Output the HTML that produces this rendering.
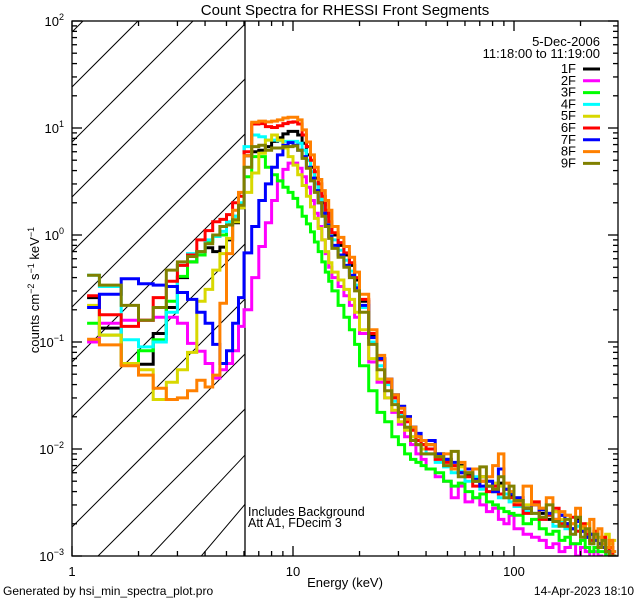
<!DOCTYPE html>
<html><head><meta charset="utf-8"><style>
html,body{margin:0;padding:0;background:#fff;width:640px;height:600px;overflow:hidden;}
svg{display:block;font-family:"Liberation Sans",sans-serif;}
</style></head><body>
<svg id="chart" width="640" height="600" viewBox="0 0 640 600" xmlns="http://www.w3.org/2000/svg">
<defs><clipPath id="pc"><rect x="72" y="21" width="546" height="535"/></clipPath>
<clipPath id="hc"><rect x="72" y="21" width="173" height="535"/></clipPath></defs>
<rect width="640" height="600" fill="#fff"/>
<text x="345" y="15" font-size="15" text-anchor="middle">Count Spectra for RHESSI Front Segments</text>
<g id="hatch" clip-path="url(#hc)" stroke="#000" stroke-width="1"></g>
<line x1="245" y1="21" x2="245" y2="556" stroke="#000" stroke-width="1.3"/>
<g id="series" clip-path="url(#pc)"></g>
<rect x="72" y="21" width="546" height="535" fill="none" stroke="#000" stroke-width="1.3"/>
<g id="ticks" stroke="#000" stroke-width="1.3"></g>
<g id="labels" font-size="13"></g>
<text x="600" y="46" font-size="13" text-anchor="end">5-Dec-2006</text>
<text x="600" y="58" font-size="13" text-anchor="end">11:18:00 to 11:19:00</text>
<g id="legend" font-size="13"></g>
<text x="248" y="516" font-size="12.5">Includes Background</text>
<text x="248" y="527" font-size="12.5">Att A1, FDecim 3</text>
<text x="345" y="587" font-size="13" text-anchor="middle">Energy (keV)</text>
<text transform="translate(39,290) rotate(-90)" font-size="13" text-anchor="middle">counts cm<tspan dy="-5" font-size="9">−2</tspan><tspan dy="5"> s</tspan><tspan dy="-5" font-size="9">−1</tspan><tspan dy="5"> keV</tspan><tspan dy="-5" font-size="9">−1</tspan></text>
<text x="3" y="595" font-size="12">Generated by hsi_min_spectra_plot.pro</text>
<text x="634" y="595" font-size="12" text-anchor="end">14-Apr-2023 18:10</text>
</svg>
<script>
const edges=[1.17,1.33,1.67,2,2.33,2.67,3,3.33,3.67,4,4.33,4.67,5,5.33,5.67,6,
6.5,7,7.5,8,8.5,9,9.5,10,10.5,11,11.5,12,12.5,13,13.5,14,14.5,15,
16,17,18,19,20,22,24,26,28,30,32,34,36,38,40,44,48,52,56,60,65,70,75,80,85,90,95,100,
110,120,130,140,150,160,170,180,190,200,210,220,230,240,250,260,270,280,290];
const seriesNames=["1F","2F","3F","4F","5F","6F","7F","8F","9F"];
const seriesColors=["#000000","#ff00ff","#00ff00","#00ffff","#d8d800","#ff0000","#0000ff","#ff8000","#808000"];
const s1F=[0.26,0.135,0.062,0.062,0.12,0.21,0.40,0.56,0.70,0.76,0.70,0.77,0.9,1.3,1.8,
5.5,6.0,6.2,6.7,7.5,8.1,8.8,9.3,9.3,8.6,7.2,5.6,4.3,3.4,2.6,2.0,1.6,1.24,
1.0,0.8,0.65,0.52,0.38,0.24,0.115,0.07,0.045,0.032,0.025,0.02,0.016,0.013,0.011,
0.011,0.009,0.008,0.0065,0.007,0.0058,0.005,0.0055,0.0045,0.004,0.0048,0.0038,0.0036,
0.0033,0.0028,0.003,0.0025,0.0022,0.0026,0.0024,0.002,0.0018,0.0022,0.0017,0.0015,0.0016,0.0014,0.0013,0.0012,0.0011,0.0011,0.001];
const s2F=[0.10,0.15,0.16,0.16,0.17,0.17,0.15,0.097,0.082,0.063,0.046,0.055,0.063,0.083,0.14,
0.2,0.4,0.78,1.3,2.1,3.2,4.1,4.7,4.7,4.2,3.5,2.8,2.1,1.6,1.2,0.9,0.67,0.5,
0.4,0.33,0.27,0.22,0.17,0.12,0.065,0.042,0.03,0.022,0.017,0.013,0.011,0.009,0.008,
0.0065,0.0055,0.005,0.0035,0.0045,0.0032,0.0035,0.003,0.0026,0.0028,0.0022,0.002,0.0024,
0.0018,0.0016,0.0015,0.0014,0.0012,0.0013,0.0011,0.0012,0.0013,0.001,0.0012,0.0011,0.0009,0.0011,0.001,0.0009,0.001,0.0009,0.0009];
const s3F=[0.15,0.116,0.063,0.083,0.105,0.24,0.41,0.56,0.65,0.87,0.97,1.0,1.3,1.5,1.9,
3.5,5.4,5.4,4.3,3.65,3.2,2.8,2.5,2.2,1.83,1.5,1.27,1.07,0.86,0.7,0.56,0.45,0.37,
0.3,0.22,0.17,0.13,0.095,0.06,0.035,0.022,0.018,0.013,0.011,0.009,0.008,0.0075,0.007,
0.0065,0.006,0.005,0.0045,0.0048,0.004,0.0035,0.0038,0.0032,0.003,0.0028,0.0026,0.0025,
0.0024,0.002,0.0022,0.0018,0.0016,0.0017,0.0014,0.0015,0.0013,0.0013,0.0014,0.0012,0.0011,0.0012,0.0011,0.0011,0.001,0.001,0.001];
const s4F=[0.42,0.33,0.105,0.09,0.10,0.19,0.52,0.67,0.70,0.9,0.97,1.08,1.33,1.5,2.0,
6.7,8.6,8.3,7.7,7.7,7.6,7.5,7.5,7.5,7.2,6.2,5.0,3.9,3.0,2.3,1.8,1.4,1.1,
0.9,0.72,0.58,0.46,0.34,0.21,0.10,0.06,0.04,0.028,0.021,0.016,0.013,0.011,0.01,
0.009,0.0075,0.0068,0.006,0.0062,0.005,0.0055,0.0042,0.0045,0.004,0.0035,0.0038,0.0032,
0.0029,0.0026,0.0025,0.0022,0.0024,0.0019,0.0021,0.0018,0.0016,0.0019,0.0015,0.0016,0.0013,0.0014,0.0012,0.0013,0.0011,0.001,0.0011];
const s5F=[0.22,0.116,0.063,0.055,0.029,0.042,0.055,0.08,0.24,0.31,0.47,0.67,0.93,1.33,1.8,
2.5,3.8,5.8,7.7,8.6,7.7,6.5,5.4,4.5,3.65,2.9,2.3,1.83,1.43,1.15,0.9,0.7,0.55,
0.45,0.38,0.31,0.25,0.19,0.13,0.07,0.045,0.03,0.023,0.018,0.015,0.013,0.011,0.01,
0.01,0.009,0.008,0.007,0.0068,0.006,0.0065,0.0055,0.005,0.0048,0.0045,0.0042,0.004,
0.0035,0.003,0.0032,0.0028,0.0025,0.0026,0.0022,0.0024,0.002,0.0021,0.0018,0.002,0.0016,0.0017,0.0015,0.0014,0.0016,0.0013,0.0014];
const s6F=[0.27,0.18,0.14,0.16,0.26,0.37,0.52,0.65,0.90,1.1,1.33,1.4,1.55,2.0,2.3,
6.0,10.9,11.0,10.3,10.1,10.5,11.0,11.3,11.4,10.9,8.6,6.7,5.0,3.9,3.0,2.3,1.7,1.33,
1.05,0.85,0.68,0.55,0.40,0.25,0.12,0.068,0.042,0.03,0.022,0.018,0.015,0.012,0.011,
0.01,0.008,0.0075,0.007,0.006,0.0055,0.0045,0.005,0.004,0.0045,0.0038,0.0042,0.0035,
0.003,0.0025,0.0032,0.0022,0.0024,0.0028,0.002,0.0019,0.0023,0.0017,0.002,0.0016,0.0014,0.0017,0.0013,0.0015,0.0011,0.0012,0.001];
const s7F=[0.21,0.28,0.39,0.35,0.34,0.33,0.29,0.25,0.19,0.15,0.095,0.063,0.083,0.15,0.26,
0.68,1.2,2.1,3.0,4.3,5.6,6.9,7.3,6.9,6.2,5.4,4.3,3.4,2.6,2.0,1.6,1.24,0.97,
0.8,0.65,0.52,0.42,0.32,0.22,0.11,0.07,0.045,0.032,0.025,0.02,0.016,0.014,0.012,
0.012,0.009,0.008,0.0075,0.006,0.0065,0.0052,0.0045,0.005,0.004,0.0065,0.0042,0.0038,
0.0035,0.0028,0.003,0.0027,0.0025,0.0022,0.0024,0.002,0.0018,0.0021,0.0017,0.0015,0.0016,0.0014,0.0013,0.0012,0.0011,0.001,0.001];
const s8F=[0.106,0.094,0.06,0.049,0.037,0.029,0.03,0.035,0.044,0.038,0.049,0.23,0.67,1.7,2.5,
5.5,11.3,11.6,11.4,11.6,11.9,12.4,12.6,12.6,11.9,9.6,7.4,5.6,4.3,3.3,2.6,2.1,1.7,
1.2,0.95,0.78,0.62,0.45,0.28,0.13,0.075,0.045,0.032,0.024,0.019,0.016,0.013,0.012,
0.011,0.0085,0.009,0.0065,0.0075,0.006,0.0065,0.005,0.0055,0.007,0.009,0.0048,0.004,
0.0032,0.0045,0.003,0.0028,0.0035,0.0022,0.0026,0.0024,0.002,0.0028,0.0019,0.0017,0.0022,0.0015,0.0018,0.0013,0.0012,0.0014,0.0011];
const s9F=[0.42,0.34,0.22,0.16,0.21,0.47,0.56,0.63,0.70,0.83,1.0,1.2,1.24,1.39,1.9,
4.3,6.7,6.9,6.2,6.5,6.5,6.7,6.7,6.8,6.2,5.2,4.2,3.2,2.5,2.0,1.5,1.2,0.93,
0.75,0.62,0.5,0.4,0.3,0.19,0.095,0.055,0.035,0.026,0.02,0.016,0.012,0.011,0.009,
0.009,0.0085,0.007,0.0095,0.0055,0.006,0.005,0.0068,0.0045,0.0042,0.0055,0.0035,0.0045,
0.0033,0.0028,0.0025,0.0023,0.003,0.0021,0.0019,0.0022,0.0016,0.0023,0.0015,0.0018,0.0013,0.0016,0.0012,0.0014,0.0011,0.001,0.001];
const seriesValues=[s1F,s2F,s3F,s4F,s5F,s6F,s7F,s8F,s9F];
const yTickExps=[-3,-2,-1,0,1,2];
const xTickLabels=["1","10","100"];

const NS="http://www.w3.org/2000/svg";
const X0=72,X1=618,Y0=21,Y1=556,XDEC=221,YDEC=107;
function xs(e){return X0+XDEC*Math.log10(e);}
function ys(v){return Y0+YDEC*(2-Math.log10(Math.max(v,1e-4)));}
function mk(tag,attrs,parent){const el=document.createElementNS(NS,tag);for(const k in attrs)el.setAttribute(k,attrs[k]);parent.appendChild(el);return el;}

const hatch=document.getElementById('hatch');
for(let y0=32;y0<=700;y0+=55){
  const ln=mk('line',{x1:X0,y1:Math.min(y0,600),x2:X0+Math.min(y0,600)-0,y2:0},hatch);
  if(y0>600){ln.setAttribute('x1',X0+(y0-600));}
  
  
}

const tk=document.getElementById('ticks');
const lab=document.getElementById('labels');
for(let d=0;d<3;d++){
  for(let m=1;m<10;m++){
    const e=Math.pow(10,d)*m; const x=xs(e); if(x>X1)break;
    const L=m===1?10:5;
    const t1=mk('line',{x1:x,y1:Y1,x2:x,y2:Y1-L},tk);
    
    
    const t2=mk('line',{x1:x,y1:Y0,x2:x,y2:Y0+L},tk);
    
    
  }
  const tl=mk('text',{x:xs(Math.pow(10,d)),y:576,'text-anchor':'middle'},lab);
  tl.textContent=xTickLabels[d];
  
  
}
yTickExps.forEach(p=>{
  for(let m=1;m<10;m++){
    const v=Math.pow(10,p)*m; if(v>100)break;
    const y=ys(v); const L=m===1?10:5;
    const t1=mk('line',{x1:X0,y1:y,x2:X0+L,y2:y},tk);
    
    
    const t2=mk('line',{x1:X1,y1:y,x2:X1-L,y2:y},tk);
    
    
  }
  const t=mk('text',{x:64,y:ys(Math.pow(10,p))+5,'text-anchor':'end'},lab);
  t.innerHTML='10<tspan dy="-6" font-size="9">'+(p<0?'−'+(-p):p)+'</tspan>';
  
  
});

const sg=document.getElementById('series');
const lg=document.getElementById('legend');
seriesValues.forEach((vals,si)=>{
  let d='';
  vals.forEach((v,i)=>{
    const xa=xs(edges[i]).toFixed(1),xb=xs(edges[i+1]).toFixed(1),y=Math.min(ys(v),Y1+4).toFixed(1);
    d+=(i===0?'M':'L')+xa+','+y+'L'+xb+','+y;
  });
  const p=mk('path',{d:d,fill:'none',stroke:seriesColors[si],'stroke-width':3,'stroke-linejoin':'miter'},sg);
  
  
  const ly=69+si*11.8;
  const lt=mk('text',{x:576,y:ly+4,'text-anchor':'end'},lg);
  lt.textContent=seriesNames[si];
  
  
  const ll=mk('line',{x1:583,y1:ly,x2:600,y2:ly,stroke:seriesColors[si],'stroke-width':3},lg);
  
  
});
</script>
</body></html>
